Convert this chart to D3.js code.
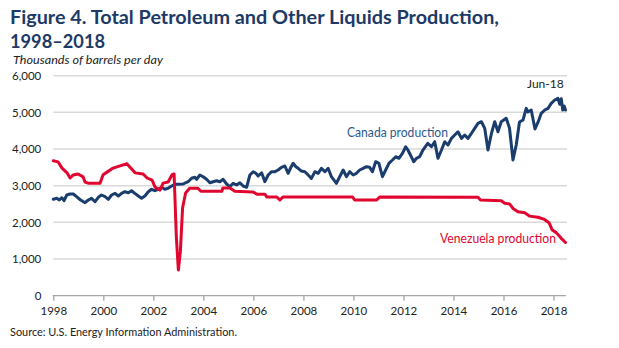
<!DOCTYPE html>
<html>
<head>
<meta charset="utf-8">
<script src="https://cdn.jsdelivr.net/npm/d3@7"></script>
<style>
  html, body { margin: 0; padding: 0; background: #fff; }
  svg { display: block; }
  text { font-family: Lato, "Open Sans", sans-serif; }
</style>
</head>
<body>
<svg id="chart" width="619" height="348"></svg>
<script>
// Monthly-ish readings, [decimal year, thousand barrels per day]
const canadaProduction = [
  [1998.00, 2630], [1998.14, 2656], [1998.24, 2610], [1998.34, 2672], [1998.43, 2591],
  [1998.54, 2746], [1998.67, 2773], [1998.80, 2773], [1998.93, 2700], [1999.09, 2610],
  [1999.27, 2536], [1999.40, 2610], [1999.53, 2656], [1999.67, 2563], [1999.80, 2683],
  [1999.93, 2746], [2000.07, 2700], [2000.20, 2629], [2000.33, 2746], [2000.47, 2792],
  [2000.60, 2719], [2000.73, 2792], [2000.86, 2836], [2001.00, 2809], [2001.13, 2863],
  [2001.26, 2792], [2001.40, 2719], [2001.53, 2656], [2001.66, 2719], [2001.80, 2836],
  [2001.93, 2902], [2002.06, 2863], [2002.19, 2902], [2002.33, 2956], [2002.46, 2902],
  [2002.59, 2929], [2002.73, 2992], [2002.86, 3038], [2002.99, 3038], [2003.19, 3046],
  [2003.39, 3109], [2003.53, 3202], [2003.66, 3229], [2003.73, 3174], [2003.86, 3292],
  [2003.99, 3245], [2004.13, 3174], [2004.26, 3082], [2004.39, 3109], [2004.53, 3136],
  [2004.66, 3109], [2004.79, 3174], [2004.93, 3046], [2005.06, 2972], [2005.19, 3065],
  [2005.33, 3019], [2005.46, 3082], [2005.59, 2992], [2005.73, 2956], [2005.86, 3292],
  [2005.99, 3382], [2006.10, 3338], [2006.19, 3264], [2006.33, 3354], [2006.46, 3109],
  [2006.59, 3292], [2006.73, 3382], [2006.86, 3382], [2006.99, 3428], [2007.12, 3501],
  [2007.26, 3537], [2007.39, 3338], [2007.48, 3474], [2007.59, 3611], [2007.70, 3518],
  [2007.79, 3474], [2007.92, 3400], [2008.06, 3382], [2008.19, 3292], [2008.32, 3201],
  [2008.46, 3382], [2008.59, 3338], [2008.72, 3474], [2008.86, 3382], [2008.99, 3474],
  [2009.12, 3245], [2009.32, 3065], [2009.45, 3245], [2009.59, 3428], [2009.72, 3245],
  [2009.85, 3382], [2009.99, 3292], [2010.12, 3338], [2010.25, 3428], [2010.39, 3474],
  [2010.52, 3518], [2010.65, 3501], [2010.76, 3382], [2010.89, 3654], [2011.02, 3611],
  [2011.16, 3245], [2011.29, 3428], [2011.42, 3611], [2011.56, 3701], [2011.69, 3791],
  [2011.82, 3747], [2011.96, 3883], [2012.09, 4063], [2012.18, 3973], [2012.28, 3837],
  [2012.41, 3654], [2012.52, 3747], [2012.65, 3791], [2012.78, 3973], [2012.97, 4156],
  [2013.12, 4063], [2013.25, 4200], [2013.38, 3747], [2013.52, 3973], [2013.65, 4200],
  [2013.78, 4110], [2013.92, 4292], [2014.05, 4382], [2014.18, 4472], [2014.32, 4292],
  [2014.45, 4382], [2014.58, 4292], [2014.72, 4429], [2014.85, 4565], [2014.98, 4701],
  [2015.12, 4745], [2015.25, 4565], [2015.38, 3973], [2015.52, 4429], [2015.65, 4745],
  [2015.78, 4472], [2015.91, 4745], [2016.11, 4838], [2016.24, 4573], [2016.38, 3701],
  [2016.51, 4110], [2016.64, 4737], [2016.78, 4791], [2016.91, 5110], [2016.98, 5010],
  [2017.11, 5064], [2017.26, 4546], [2017.39, 4745], [2017.51, 4974], [2017.65, 5064],
  [2017.78, 5110], [2017.91, 5247], [2018.05, 5337], [2018.18, 5383], [2018.25, 5220],
  [2018.31, 5370], [2018.37, 5064], [2018.43, 5170], [2018.48, 5064]
];

const venezuelaProduction = [
  [1998.00, 3680], [1998.19, 3650], [1998.35, 3480], [1998.55, 3350], [1998.67, 3210],
  [1998.79, 3290], [1998.99, 3320], [1999.19, 3240], [1999.27, 3100], [1999.39, 3070],
  [1999.87, 3070], [1999.99, 3300], [2000.15, 3370], [2000.39, 3480], [2000.67, 3540],
  [2000.94, 3600], [2001.06, 3510], [2001.27, 3350], [2001.59, 3320], [2001.75, 3210],
  [2001.95, 3150], [2002.07, 2960], [2002.27, 2880], [2002.39, 3070], [2002.59, 3100],
  [2002.75, 3300], [2002.83, 3320], [2002.92, 1600], [2003.00, 700], [2003.08, 1200],
  [2003.17, 2400], [2003.29, 2800], [2003.45, 2930], [2003.78, 2930], [2003.90, 2850],
  [2004.74, 2850], [2004.78, 2940], [2005.06, 2940], [2005.26, 2850], [2005.98, 2830],
  [2006.14, 2770], [2006.46, 2770], [2006.54, 2690], [2006.94, 2690], [2007.06, 2610],
  [2007.18, 2690], [2009.97, 2690], [2010.05, 2610], [2010.93, 2610], [2011.05, 2690],
  [2014.98, 2683], [2015.08, 2610], [2015.91, 2590], [2016.05, 2520], [2016.25, 2500],
  [2016.38, 2380], [2016.58, 2290], [2016.85, 2260], [2017.05, 2170], [2017.38, 2140],
  [2017.64, 2080], [2017.82, 1990], [2017.95, 1790], [2018.11, 1720], [2018.31, 1565],
  [2018.48, 1450]
];

const yTicks = [0, 1000, 2000, 3000, 4000, 5000, 6000];
const xTicks = [1998, 2000, 2002, 2004, 2006, 2008, 2010, 2012, 2014, 2016, 2018];

const svg = d3.select("#chart");

const x = d3.scaleLinear().domain([1998, 2018.5]).range([53.3, 566]);
const y = d3.scaleLinear().domain([0, 6000]).range([295.7, 75.7]);

// shrink or stretch a text run to a given width
function fit(sel, w) {
  const len = sel.node().getComputedTextLength();
  if (Math.abs(len - w) > 1) sel.attr("textLength", w).attr("lengthAdjust", "spacingAndGlyphs");
  return sel;
}

// Title block
fit(svg.append("text").attr("x", 10).attr("y", 24)
  .attr("font-size", 18).attr("font-weight", 700).attr("fill", "#1d3a66")
  .text("Figure 4. Total Petroleum and Other Liquids Production,"), 489);
fit(svg.append("text").attr("x", 10).attr("y", 47.5)
  .attr("font-size", 18).attr("font-weight", 700).attr("fill", "#1d3a66")
  .text("1998–2018"), 95);
fit(svg.append("text").attr("x", 13).attr("y", 64)
  .attr("font-size", 11.5).attr("font-style", "italic").attr("fill", "#222")
  .text("Thousands of barrels per day"), 150);

// Horizontal gridlines
svg.append("g")
  .selectAll("line")
  .data(yTicks.filter(d => d > 0))
  .join("line")
  .attr("x1", x.range()[0]).attr("x2", x.range()[1] + 1)
  .attr("y1", d => y(d)).attr("y2", d => y(d))
  .attr("stroke", "#d9d9d9").attr("stroke-width", 1.5);

// Y axis labels
const yAxis = svg.append("g")
  .attr("transform", `translate(${x.range()[0]},0)`)
  .call(d3.axisLeft(y).tickValues(yTicks).tickSize(0).tickPadding(12).tickFormat(d3.format(",")));
yAxis.select(".domain").remove();
yAxis.selectAll("text").attr("font-family", "Lato, 'Open Sans', sans-serif")
  .attr("font-size", 11.5).attr("fill", "#222");

// X axis
const xAxis = svg.append("g")
  .attr("transform", `translate(0,${y(0)})`)
  .call(d3.axisBottom(x).tickValues(xTicks).tickSize(5).tickPadding(6).tickFormat(d3.format("d")));
xAxis.select(".domain").attr("stroke", "#a6a6a6").attr("stroke-width", 1.3)
  .attr("d", `M${x.range()[0]},0.5V0H${x.range()[1]}`);
xAxis.selectAll(".tick line").attr("stroke", "#a6a6a6").attr("stroke-width", 1.3);
xAxis.selectAll("text").attr("font-family", "Lato, 'Open Sans', sans-serif")
  .attr("font-size", 11.5).attr("fill", "#222");

// Series lines
const line = d3.line().x(d => x(d[0])).y(d => y(d[1]));

svg.append("path").datum(canadaProduction)
  .attr("d", line).attr("fill", "none")
  .attr("stroke", "#1a3d6d").attr("stroke-width", 3)
  .attr("stroke-linejoin", "round").attr("stroke-linecap", "round");

svg.append("path").datum(venezuelaProduction)
  .attr("d", line).attr("fill", "none")
  .attr("stroke", "#e1062f").attr("stroke-width", 3)
  .attr("stroke-linejoin", "round").attr("stroke-linecap", "round");

// Labels
fit(svg.append("text").attr("x", 527).attr("y", 88)
  .attr("font-size", 12).attr("fill", "#222").text("Jun-18"), 36);
fit(svg.append("text").attr("x", 347).attr("y", 137)
  .attr("font-size", 12.5).attr("fill", "#2b5a8f").text("Canada production"), 101);
fit(svg.append("text").attr("x", 440).attr("y", 243)
  .attr("font-size", 12.5).attr("fill", "#e1062f").text("Venezuela production"), 116);

// Source note
fit(svg.append("text").attr("x", 10).attr("y", 336)
  .attr("font-size", 10.5).attr("fill", "#222")
  .text("Source: U.S. Energy Information Administration."), 227);
</script>
</body>
</html>
